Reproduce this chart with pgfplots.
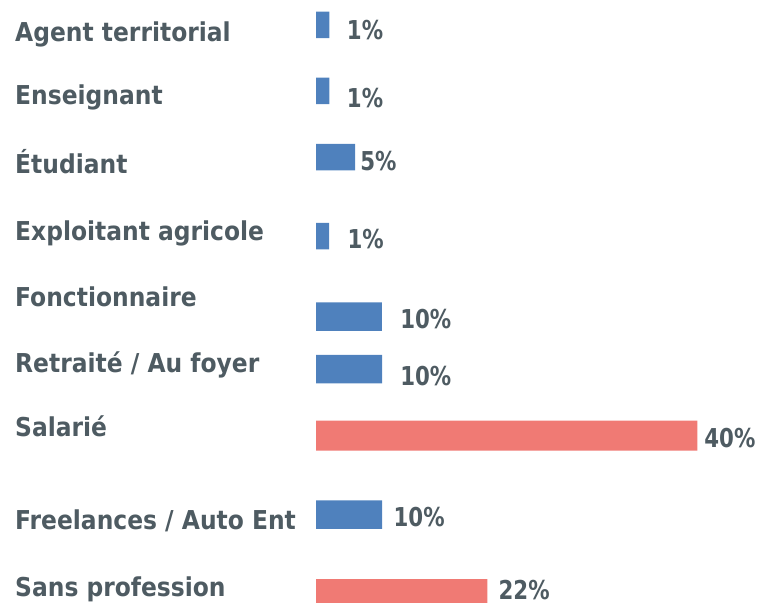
\documentclass[border=0pt]{standalone}
\usepackage{fontspec}
\setmainfont{DejaVu Sans}[FakeStretch=0.9]
\newfontfamily\numfont{DejaVu Sans}[FakeStretch=0.82]
\usepackage{pgfplots}
\pgfplotsset{compat=1.18}
\definecolor{txt}{HTML}{4E5B62}
\definecolor{barblue}{HTML}{4F81BD}
\definecolor{barred}{HTML}{F07A74}
\begin{document}
\begin{tikzpicture}
\begin{axis}[
  scale only axis,
  width=761bp, height=603bp,
  xmin=-33.18, xmax=46.71,
  ymin=0, ymax=603,
  y dir=reverse,
  axis line style={draw=none},
  major tick length=0pt,
  xtick=\empty,
  ytick={41.5,104,173,240.7,306,372.7,436.7,529.3,596},
  yticklabels={Agent territorial,Enseignant,Étudiant,Exploitant agricole,Fonctionnaire,Retraité / Au foyer,Salarié,Freelances / Auto Ent,Sans profession},
  yticklabel style={anchor=base west, inner sep=0pt, xshift=15bp, text=txt, font=\fontsize{26bp}{30bp}\selectfont\bfseries},
  every node near coord/.style={anchor=base west, inner sep=0pt, text=txt, font=\numfont\fontsize{26bp}{30bp}\selectfont\bfseries},
]
\addplot[xbar, bar shift=0pt, bar width=26.5, fill=barblue, draw=none]
  coordinates {(1.40,25) (1.40,90.8) (4.09,157) (1.37,236)};
\addplot[xbar, bar shift=0pt, bar width=28.5, fill=barblue, draw=none]
  coordinates {(6.90,316.5) (6.93,369.2) (6.93,514.7)};
\addplot[xbar, bar shift=0pt, bar width=30, fill=barred, draw=none]
  coordinates {(40.03,435.7) (17.98,594)};
\addplot[only marks, mark=none, nodes near coords, point meta=explicit symbolic]
  coordinates {
    (3.22,39.3) [1\%]
    (3.22,107.3) [1\%]
    (4.62,170.7) [5\%]
    (3.29,248.3) [1\%]
    (8.82,328.3) [10\%]
    (8.82,385) [10\%]
    (40.74,447.7) [40\%]
    (8.12,526.7) [10\%]
    (19.14,599.5) [22\%]
  };
\end{axis}
\pgfresetboundingbox
\path (current axis.south west) rectangle (current axis.north east);
\end{tikzpicture}
\end{document}
